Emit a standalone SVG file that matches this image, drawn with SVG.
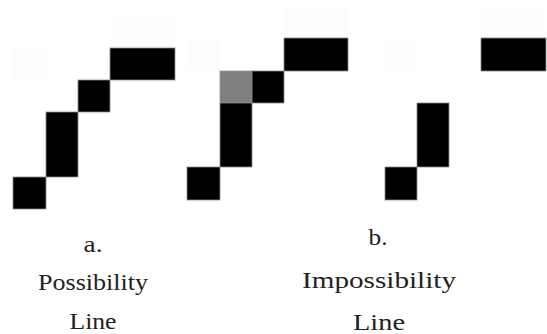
<svg xmlns="http://www.w3.org/2000/svg" width="547" height="334" viewBox="0 0 547 334">
<style>
.px{fill:#000;stroke:#8c8c8c;stroke-width:0.8}
.gr{fill:#7f7f7f;stroke:#9a9a9a;stroke-width:0.8}
.bg{fill:#fdfdfd}
.lbl{font-size:24px;fill:#222;text-anchor:middle}
</style>
<rect width="547" height="334" fill="#fff"/>
<g id="background">
<rect class="bg" x="110" y="17" width="65" height="31"/>
<rect class="bg" x="13" y="48" width="33" height="32"/>
<rect class="bg" x="284" y="8" width="64" height="30"/>
<rect class="bg" x="187" y="38" width="33" height="33"/>
<rect class="bg" x="481" y="8" width="65" height="30"/>
<rect class="bg" x="385" y="38" width="32" height="33"/>
</g>
<g id="panel-a">
<rect class="px" x="110" y="48" width="65" height="32"/>
<rect class="px" x="78" y="80" width="32" height="32"/>
<rect class="px" x="46" y="112" width="32" height="65"/>
<rect class="px" x="13" y="177" width="33" height="32"/>
</g>
<g id="panel-b">
<rect class="px" x="284" y="38" width="64" height="33"/>
<rect class="gr" x="220" y="71" width="32" height="32"/>
<rect class="px" x="252" y="71" width="32" height="32"/>
<rect class="px" x="220" y="103" width="32" height="64"/>
<rect class="px" x="187" y="167" width="33" height="33"/>
</g>
<g id="panel-c">
<rect class="px" x="481" y="38" width="65" height="33"/>
<rect class="px" x="417" y="103" width="32" height="64"/>
<rect class="px" x="385" y="167" width="32" height="33"/>
</g>
<g id="connectors"/>
<g id="label-a">
<text class="lbl" font-family="Liberation Serif" x="93" y="252" textLength="19" lengthAdjust="spacingAndGlyphs">a.</text>
<text class="lbl" font-family="Liberation Serif" x="93" y="290" textLength="110" lengthAdjust="spacingAndGlyphs">Possibility</text>
<text class="lbl" font-family="Liberation Serif" x="93" y="329" textLength="47" lengthAdjust="spacingAndGlyphs">Line</text>
</g>
<g id="label-b">
<text class="lbl" font-family="Liberation Serif" x="378" y="245" textLength="19" lengthAdjust="spacingAndGlyphs">b.</text>
<text class="lbl" font-family="Liberation Serif" x="379" y="288" textLength="154" lengthAdjust="spacingAndGlyphs">Impossibility</text>
<text class="lbl" font-family="Liberation Serif" x="379" y="330" textLength="52" lengthAdjust="spacingAndGlyphs">Line</text>
</g>
</svg>
